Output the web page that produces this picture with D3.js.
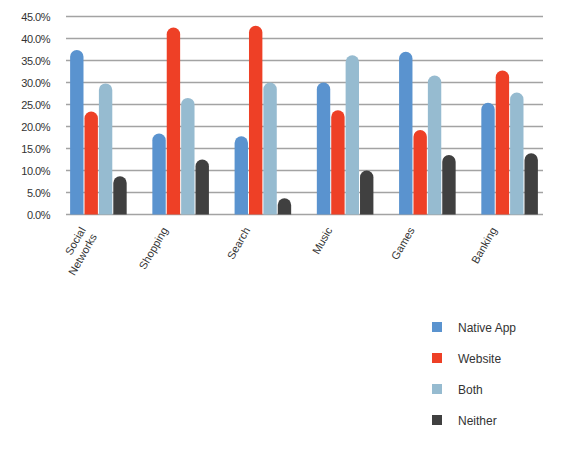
<!DOCTYPE html><html><head><meta charset="utf-8"><script src="https://d3js.org/d3.v7.min.js"></script>
<style>body{margin:0;background:#fff}text{font-family:"Liberation Sans",Arial,sans-serif;fill:#333}</style></head><body><svg width="580" height="472"></svg><script>
const categories=["Social Networks","Shopping","Search","Music","Games","Banking"];
const series=["Native App","Website","Both","Neither"];
const colors=["#5a93cf","#ee4026","#96bbd0","#404040"];
const nativeApp=[37.4,18.4,17.8,30.0,37.0,25.4];
const website=[23.4,42.5,42.9,23.7,19.2,32.7];
const both=[29.8,26.5,30.0,36.2,31.6,27.7];
const neither=[8.7,12.5,3.7,10.0,13.5,13.9];
const ticks=[0,5,10,15,20,25,30,35,40,45];
const vals=[nativeApp,website,both,neither];
const svg=d3.select("svg");
const y=d3.scaleLinear().domain([0,45]).range([214.5,16.5]);
const x=d3.scaleBand().domain(categories).range([66,543]).paddingInner(0.3).paddingOuter(0.05);
const xs=d3.scaleBand().domain(series).range([0,x.bandwidth()]);
svg.append("g").selectAll("line").data(ticks).join("line").attr("x1",66).attr("x2",543).attr("y1",d=>y(d)).attr("y2",d=>y(d)).attr("stroke","#a3a3a3").attr("stroke-width",1.3);
svg.append("g").selectAll("text").data(ticks).join("text").attr("x",50).attr("y",d=>y(d)+4).attr("text-anchor","end").attr("font-size",11).attr("letter-spacing",-0.5).text(d=>d.toFixed(1)+"%");
categories.forEach((c,i)=>{series.forEach((s,j)=>{const v=vals[j][i],w=xs.bandwidth()-1,x0=x(c)+xs(s),r=w/2,yt=y(v),yb=y(0);
svg.append("path").attr("fill",colors[j]).attr("d",`M${x0},${yb}V${yt+r}A${r},${r} 0 0 1 ${x0+w},${yt+r}V${yb}Z`);});
const lab=svg.append("text").attr("transform",`translate(${x(c)+16},230) rotate(-60)`).attr("text-anchor","end").attr("font-size",11);
const parts=c==="Social Networks"?["Social","Networks"]:[c];
parts.forEach((p,k)=>lab.append("tspan").attr("x",0).attr("dy",k?13:0).text(p));});
const lg=svg.append("g").selectAll("g").data(series).join("g").attr("transform",(d,i)=>`translate(432,${322+i*31})`);
lg.append("rect").attr("width",10).attr("height",10).attr("fill",(d,i)=>colors[i]);
lg.append("text").attr("x",26).attr("y",9.5).attr("font-size",12).text(d=>d);
</script></body></html>
